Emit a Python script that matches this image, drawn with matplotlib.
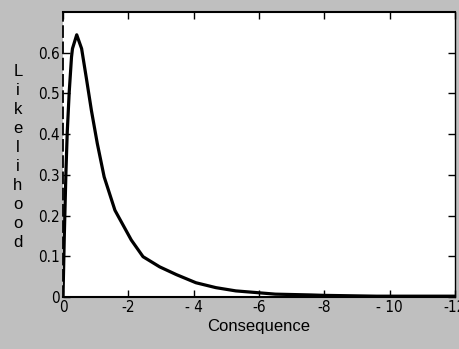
import matplotlib
matplotlib.use("Agg")
import matplotlib.pyplot as plt

# Data
consequence = [0, -0.04, -0.09, -0.13, -0.19, -0.26, -0.29, -0.42, -0.57, -0.72,
               -0.87, -1.05, -1.26, -1.59, -2.09, -2.45, -2.96, -3.47, -4.07,
               -4.68, -5.29, -5.9, -6.5, -7.6, -8.0, -9.6, -12.0]
likelihood = [0, 0.15, 0.307, 0.405, 0.503, 0.589, 0.61, 0.644, 0.61, 0.535,
              0.458, 0.377, 0.295, 0.213, 0.14, 0.099, 0.074, 0.055, 0.035,
              0.023, 0.015, 0.011, 0.007, 0.005, 0.004, 0.002, 0.002]
xticks = [0, -2, -4, -6, -8, -10, -12]
xticklabels = ["0", "-2", "- 4", "-6", "-8", "- 10", "-12"]
yticks = [0, 0.1, 0.2, 0.3, 0.4, 0.5, 0.6]
yticklabels = ["0", "0.1", "0.2", "0.3", "0.4", "0.5", "0.6"]

plt.rcParams['font.family'] = ["DejaVu Sans"]

bg = "#bfbfbf"
fig = plt.figure(figsize=(4.59, 3.49), dpi=100, facecolor=bg)
ax = fig.add_axes([63/459, 52/349, (455-63)/459, (297-12)/349])
ax.set_facecolor("white")

ax.plot(consequence, likelihood, color="black", lw=2.3, solid_joinstyle="round")

ax.set_xlim(0, -12)
ax.set_ylim(0, 0.7)
ax.set_xticks(xticks)
ax.set_xticklabels(xticklabels)
ax.set_yticks(yticks)
ax.set_yticklabels(yticklabels)
ax.tick_params(direction="in", length=5, width=1, colors="black",
               top=True, right=True, pad=2)
for lab in ax.get_xticklabels() + ax.get_yticklabels():
    lab.set_fontsize(11)
    lab.set_fontstretch("condensed")

for s in ["top", "bottom"]:
    ax.spines[s].set_linewidth(1.5)
ax.spines["right"].set_linewidth(1.0)
ax.spines["left"].set_linewidth(1.3)
ax.spines["left"].set_linestyle((0, (6, 3)))

ax.set_xlabel("Consequence", fontsize=12, family="Liberation Sans", labelpad=3)
fig.text(18/459, 1 - 157/349, "\n".join("Likelihood"), ha="center", va="center",
         fontsize=12, family="Liberation Sans", linespacing=1.33)

fig.savefig("out.png", dpi=100, facecolor=bg)
